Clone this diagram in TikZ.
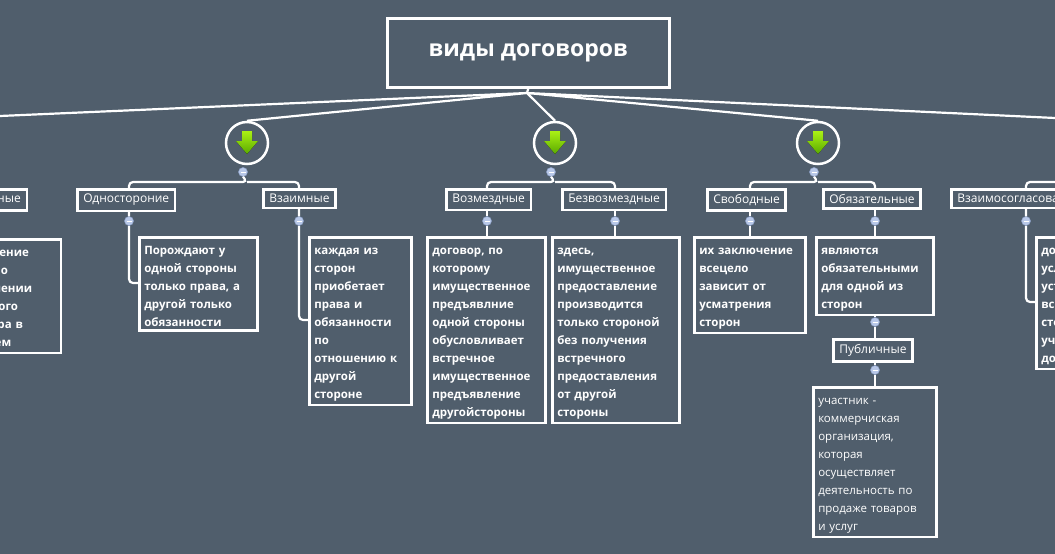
\documentclass[tikz,border=0pt]{standalone}
\usepackage{fontspec}
\setmainfont{Open Sans}
\usetikzlibrary{calc}
\begin{document}
\begin{tikzpicture}[x=1pt,y=-1pt,
 bg/.style={fill={rgb,255:red,80;green,94;blue,108}},
 ln/.style={draw=white,line width=2.2pt,rounded corners=4pt},
 lbl/.style={draw=white,line width=2.5pt,text=white,font=\fontsize{12}{14}\selectfont,inner xsep=6pt,inner ysep=5pt,anchor=north west},
 txt/.style={draw=white,line width=2.5pt,text=white,font=\bfseries\fontsize{11.5}{18}\selectfont,align=left,inner xsep=5pt,inner ysep=4pt,anchor=north west,execute at begin node=\rule{0pt}{13pt}},
 rtxt/.style={txt,font=\fontsize{11.5}{18}\selectfont},
 minus/.style={circle,fill={rgb,255:red,184;green,200;blue,232},draw={rgb,255:red,140;green,160;blue,200},line width=0.5pt,inner sep=0pt,minimum size=9pt,path picture={\draw[white,line width=0.8pt] ([xshift=-2.5pt]path picture bounding box.center)--([xshift=2.5pt]path picture bounding box.center);}},
 ring/.style={circle,draw=white,line width=2.5pt,minimum size=42pt,inner sep=0pt},
]
\useasboundingbox (0,0) rectangle (1055,554);
\clip (0,0) rectangle (1055,554);
\fill[bg] (0,0) rectangle (1055,554);
\newcommand\greenarrow[1]{\fill[top color={rgb,255:red,170;green,240;blue,20},bottom color={rgb,255:red,90;green,170;blue,0}] ($(#1)+(-5,-12)$)--($(#1)+(5,-12)$)--($(#1)+(5,-2)$)--($(#1)+(11,-2)$)--($(#1)+(0,11)$)--($(#1)+(-11,-2)$)--($(#1)+(-5,-2)$)--cycle;}
% title
\node[draw=white,line width=2.5pt,text=white,font=\bfseries\fontsize{23}{26}\selectfont,minimum width=282pt,minimum height=69pt,anchor=north west] (title) at (386,17) {виды договоров};
\coordinate (hub) at (527,93);
\draw[white,line width=2.2pt] (title.south) -- (hub);
% rings
\node[ring] (c1) at (247,143) {};
\node[ring] (c2) at (555,143) {};
\node[ring] (c3) at (818,143) {};
\coordinate (lout) at (0,116);
\coordinate (rout) at (1055,118);
\draw[white,line width=2.2pt] (hub)--(c1.north) (hub)--(c2.north) (hub)--(c3.north) (hub)--(lout) (hub)--(rout);
\greenarrow{c1}\greenarrow{c2}\greenarrow{c3}
% group 1
\node[lbl] (a1) at (76,188) {Одностороние};
\node[lbl] (a2) at (262,188) {Взаимные};
\node[minus] (m1) at (243,172) {};
\draw[ln] (m1.south) -- (247,182) -- (129,182) -- (a1.north -| 129,0);
\draw[ln] (247,182) -- (299,182) -- (a2.north -| 299,0);
\node[txt,text width=108pt] (t1) at (138,236) {Порождают у\\одной стороны\\только права, а\\другой только\\обязанности};
\node[txt,text width=92pt] (t2) at (308,236) {каждая из\\сторон\\приобетает\\права и\\обязанности\\по\\отношению к\\другой\\стороне};
\node[minus] (ma1) at (129,221) {};
\node[minus] (ma2) at (299,221) {};
\draw[ln] (a1.south -| 129,0) -- (ma1) -- (129,283) -- (t1.west |- 0,283);
\draw[ln] (a2.south -| 299,0) -- (ma2) -- (299,320) -- (t2.west |- 0,320);
% left partial
\node[lbl,anchor=north east] (l0) at (28,188) {Предварительные};
\node[txt,anchor=north east,text width=100pt] (l1) at (62,238) {соглашение\\сторон о\\заключении\\основного\\договора в\\будущем};
% group 2
\node[lbl] (b1) at (445,188) {Возмездные};
\node[lbl] (b2) at (561,188) {Безвозмездные};
\node[minus] (m2) at (551,172) {};
\draw[ln] (m2.south) -- (555,182) -- (487,182) -- (b1.north -| 487,0);
\draw[ln] (555,182) -- (615,182) -- (b2.north -| 615,0);
\node[minus] (mb1) at (487,221) {};
\node[minus] (mb2) at (615,221) {};
\node[txt,text width=108pt] (u1) at (426,236) {договор, по\\которому\\имущественное\\предъявлние\\одной стороны\\обусловливает\\встречное\\имущественное\\предъявление\\другойстороны};
\node[txt,text width=117pt] (u2) at (551,236) {здесь,\\имущественное\\предоставление\\производится\\только стороной\\без получения\\встречного\\предоставления\\от другой\\стороны};
\draw[ln] (b1.south -| 487,0) -- (mb1) -- (u1.north -| 487,0);
\draw[ln] (b2.south -| 615,0) -- (mb2) -- (u2.north -| 615,0);
% group 3
\node[lbl] (d1) at (706,188) {Свободные};
\node[lbl] (d2) at (822,188) {Обязательные};
\node[minus] (m3) at (814,172) {};
\draw[ln] (m3.south) -- (818,182) -- (750,182) -- (d1.north -| 750,0);
\draw[ln] (818,182) -- (875,182) -- (d2.north -| 875,0);
\node[minus] (md1) at (750,221) {};
\node[minus] (md2) at (875,221) {};
\node[txt,text width=101pt] (v1) at (693,236) {их заключение\\всецело\\зависит от\\усматрения\\сторон};
\node[txt,text width=107pt] (v2) at (815,236) {являются\\обязательными\\для одной из\\сторон};
\draw[ln] (d1.south -| 750,0) -- (md1) -- (v1.north -| 750,0);
\draw[ln] (d2.south -| 875,0) -- (md2) -- (v2.north -| 875,0);
\node[minus] (mv2) at (875,322) {};
\node[lbl] (p) at (832,338) {Публичные};
\draw[ln] (v2.south -| 875,0) -- (mv2) -- (p.north -| 875,0);
\node[minus] (mp) at (875,370) {};
\node[rtxt,text width=113pt] (w) at (812,386) {участник -\\коммерчиская\\организация,\\которая\\осуществляет\\деятельность по\\продаже товаров\\и услуг};
\draw[ln] (p.south -| 875,0) -- (mp) -- (w.north -| 875,0);
% right partial
\node[lbl] (r1) at (950,188) {Взаимосогласованные};
\node[minus] (mr1) at (1026,221) {};
\draw[ln] (1026,188) -- (1026,182) -- (1070,182);
\node[txt,text width=110pt] (s1) at (1035,236) {договоры,\\условия\\устанавливаются\\всеми\\сторонами\\участниками\\договора};
\draw[ln] (r1.south -| 1026,0) -- (mr1) -- (1026,302) -- (s1.west |- 0,302);
\end{tikzpicture}
\end{document}
